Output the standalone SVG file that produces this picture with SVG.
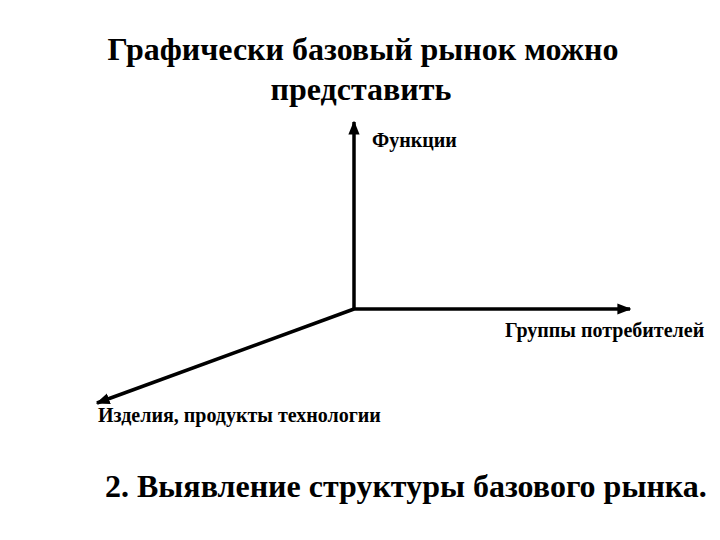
<svg xmlns="http://www.w3.org/2000/svg" width="720" height="540" viewBox="0 0 720 540">
<style>
text{font-family:"Liberation Serif","DejaVu Serif","Times New Roman",serif;font-weight:bold;fill:#000}
.t{font-size:32px}
.l{font-size:20px}
.ax{stroke:#000;stroke-width:3.5;fill:none}
</style>
<defs><marker id="a" viewBox="0 0 10 10" refX="9" refY="5" markerWidth="4" markerHeight="4" orient="auto" markerUnits="strokeWidth"><path d="M0,1 L10,5 L0,9 z" fill="#000"/></marker></defs>
<rect width="720" height="540" fill="#fff"/>
<g id="title"><text class="t" x="363" y="60" text-anchor="middle">Графически базовый рынок можно</text><text class="t" x="361" y="100" text-anchor="middle">представить</text></g>
<g id="connectors">
<line class="ax" x1="354" y1="309" x2="354" y2="122" marker-end="url(#a)"/>
<line class="ax" x1="354" y1="309" x2="630" y2="309" marker-end="url(#a)"/>
<line class="ax" x1="354" y1="309" x2="97" y2="403" marker-end="url(#a)"/>
</g>
<g id="n1"><text class="l" x="372" y="147">Функции</text></g>
<g id="n2"><text class="l" x="505" y="337">Группы потребителей</text></g>
<g id="n3"><text class="l" x="98" y="422">Изделия, продукты технологии</text></g>
<g id="footer"><text class="t" x="105" y="497" font-size="26">2. Выявление структуры базового рынка.</text></g>
</svg>
